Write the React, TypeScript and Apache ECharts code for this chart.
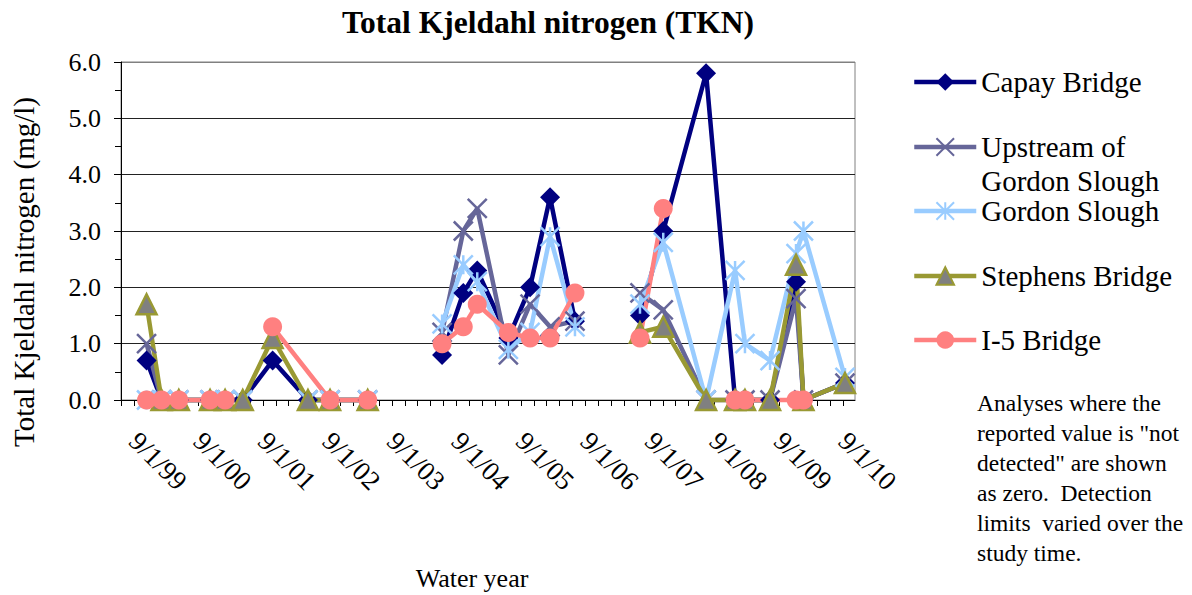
import React, { useEffect, useRef } from "react";
import * as echarts from "echarts";

const FONT = '"Liberation Serif", "Times New Roman", serif';

// Sampling dates, one array per sampling campaign
const earlyDates = ["2000-01-24", "2000-04-18", "2000-07-25", "2001-01-18", "2001-04-13", "2001-07-22", "2002-01-07", "2002-07-26", "2002-11-28", "2003-06-29"];
const middleDates = ["2004-08-24", "2004-12-22", "2005-03-11", "2005-09-03", "2006-01-04", "2006-04-27", "2006-09-15"];
const lateDates = ["2007-09-18", "2008-01-28", "2008-09-27", "2009-03-10", "2009-05-05", "2009-09-24", "2010-02-18", "2010-04-01", "2010-11-22"];

// null = not sampled (skipped), "-" = line break
type V = number | null | "-";
const capayEarly: V[] = [0.7, 0, 0, 0, 0, 0, 0.7, 0, 0, 0];
const capayMiddle: V[] = [0.8, 1.9, 2.3, 1.1, 2.0, 3.6, 1.4];
const capayLate: V[] = [1.5, 3.0, 5.8, 0, 0, 0, 2.1, 0, 0.3];

const upstreamEarly: V[] = [1.0, 0, 0, 0, 0, 0, "-", 0, 0, 0];
const upstreamMiddle: V[] = [1.2, 3.0, 3.4, 0.8, 1.7, 1.3, 1.4];
const upstreamLate: V[] = [1.9, 1.6, 0, 0, 0, 0, 1.8, 0, 0.3];

const gordonEarly: V[] = [0, 0, 0, 0, 0, 0, "-", 0, 0, 0];
const gordonMiddle: V[] = [1.35, 2.4, 2.1, 0.9, 1.2, 2.9, 1.3];
const gordonLate: V[] = [1.7, 2.8, 0, 2.3, 1.0, 0.7, 2.6, 3.0, 0.4];

const stephensEarly: V[] = [1.7, 0, 0, 0, 0, 0, 1.1, 0, 0, 0];
const stephensMiddle: V[] = [null, null, null, null, null, null, null];
const stephensLate: V[] = [1.2, 1.3, 0, 0, 0, 0, 2.4, 0, 0.3];

const i5Early: V[] = [0, 0, 0, 0, 0, "-", 1.3, null, 0, 0];
const i5Middle: V[] = [1.0, 1.3, 1.7, 1.2, 1.1, 1.1, 1.9];
const i5Late: V[] = [1.1, 3.4, "-", 0, 0, null, 0, 0, null];

const xTickLabels = ["9/1/99", "9/1/00", "9/1/01", "9/1/02", "9/1/03", "9/1/04", "9/1/05", "9/1/06", "9/1/07", "9/1/08", "9/1/09", "9/1/10"];
const yTickLabels = ["0.0", "1.0", "2.0", "3.0", "4.0", "5.0", "6.0"];
// axis extent in water years after 9/1/99
const xAxisMaxYears = 11.38;

const noteLines = [
  "Analyses where the",
  'reported value is "not',
  'detected" are shown',
  "as zero.  Detection",
  "limits  varied over the",
  "study time.",
];

// years since 9/1/1999 (water-year axis units)
function toYears(date: string): number {
  const [y, m, d] = date.split("-").map(Number);
  const base = m >= 9 ? y : y - 1;
  const start = Date.UTC(base, 8, 1);
  const end = Date.UTC(base + 1, 8, 1);
  return base - 1999 + (Date.UTC(y, m - 1, d) - start) / (end - start);
}

const periods = [earlyDates, middleDates, lateDates];
function build(parts: V[][]) {
  const out: any[] = [];
  parts.forEach((vals, p) => {
    const dates = periods[p];
    vals.forEach((v, i) => {
      if (v === null) return;
      out.push([toYears(dates[i]), v]);
    });
    if (p < parts.length - 1) out.push([toYears(dates[dates.length - 1]) + 0.01, "-"]);
  });
  return out;
}

const X_PATH = "path://M0 0L10 10M10 0L0 10";
const STAR_PATH = "path://M0 0L10 10M10 0L0 10M5 0L5 10";

function isWhole(v: number) {
  return Math.abs(v - Math.round(v)) < 1e-6;
}

export default function App() {
  const ref = useRef<HTMLDivElement>(null);
  useEffect(() => {
    if (!ref.current) return;
    const chart = echarts.init(ref.current, null, { renderer: "svg" });
    const lw = 4.5;
    const legendBase = {
      left: 912,
      orient: "vertical",
      itemWidth: 62,
      itemHeight: 22,
      padding: 0,
      lineStyle: { width: lw },
      textStyle: { fontSize: 29, fontFamily: FONT, color: "#000", lineHeight: 34 },
    };
    const option: any = {
      animation: false,
      backgroundColor: "#fff",
      title: {
        text: "Total Kjeldahl nitrogen (TKN)",
        left: 548,
        top: 4,
        textAlign: "center",
        padding: 0,
        textStyle: { fontSize: 31.5, fontWeight: "bold", fontFamily: FONT, color: "#000", lineHeight: 36 },
      },
      grid: {
        left: 121,
        top: 62,
        width: 734,
        height: 338,
        show: true,
        borderColor: "#808080",
        borderWidth: 1,
        backgroundColor: "#fff",
      },
      legend: [
        { ...legendBase, top: 65, data: ["Capay Bridge"] },
        {
          ...legendBase,
          top: 96,
          data: ["Upstream of Gordon Slough"],
          formatter: () => "\nUpstream of\nGordon Slough",
        },
        { ...legendBase, top: 194, data: ["Gordon Slough"] },
        { ...legendBase, top: 259, data: ["Stephens Bridge"] },
        { ...legendBase, top: 323, data: ["I-5 Bridge"] },
      ],
      xAxis: {
        type: "value",
        min: 0,
        max: xAxisMaxYears,
        interval: 0.2,
        axisLine: { show: true, onZero: false, lineStyle: { color: "#000", width: 1 } },
        axisTick: { show: true, length: 6, lineStyle: { color: "#000" } },
        splitLine: { show: false },
        axisLabel: {
          rotate: -45,
          margin: 24,
          fontSize: 27,
          fontFamily: FONT,
          color: "#000",
          padding: [0, 0, 0, 18],
          showMaxLabel: false,
          formatter: (v: number) => (isWhole(v) ? xTickLabels[Math.round(v)] ?? "" : ""),
        },
      },
      yAxis: {
        type: "value",
        min: 0,
        max: 6,
        interval: 1,
        axisLine: { show: true, lineStyle: { color: "#000", width: 1 } },
        axisTick: { show: true, length: 7, lineStyle: { color: "#000" } },
        minorTick: { show: true, splitNumber: 2, length: 6, lineStyle: { color: "#000" } },
        splitLine: {
          show: true,
          lineStyle: { color: ["#222", "#222", "#222", "#222", "#222", "#222", "#808080"], width: 1 },
        },
        axisLabel: {
          margin: 20,
          fontSize: 26,
          fontFamily: FONT,
          color: "#000",
          formatter: (v: number) => yTickLabels[Math.round(v)] ?? "",
        },
      },
      graphic: [
        {
          type: "text",
          x: 24,
          y: 272,
          rotation: Math.PI / 2,
          style: {
            text: "Total Kjeldahl nitrogen (mg/l)",
            fontSize: 29,
            fontFamily: FONT,
            fill: "#000",
            textAlign: "center",
            textVerticalAlign: "middle",
          },
        },
        {
          type: "text",
          x: 472,
          y: 578,
          style: {
            text: "Water year",
            fontSize: 26,
            fontFamily: FONT,
            fill: "#000",
            textAlign: "center",
            textVerticalAlign: "middle",
          },
        },
        {
          type: "text",
          x: 977,
          y: 388,
          style: {
            text: noteLines.join("\n"),
            fontSize: 23.5,
            lineHeight: 30,
            fontFamily: FONT,
            fill: "#000",
            textAlign: "left",
            textVerticalAlign: "top",
          },
        },
      ],
      series: [
        {
          name: "Capay Bridge",
          type: "line",
          clip: false,
          color: "#000080",
          data: build([capayEarly, capayMiddle, capayLate]),
          symbol: "diamond",
          symbolSize: 20,
          lineStyle: { color: "#000080", width: lw },
          itemStyle: { color: "#000080" },
        },
        {
          name: "Upstream of Gordon Slough",
          type: "line",
          clip: false,
          color: "#666699",
          data: build([upstreamEarly, upstreamMiddle, upstreamLate]),
          symbol: X_PATH,
          symbolSize: 19,
          lineStyle: { color: "#666699", width: lw },
          itemStyle: { color: "#666699", borderColor: "#666699", borderWidth: 2.5 },
        },
        {
          name: "Gordon Slough",
          type: "line",
          clip: false,
          color: "#99CCFF",
          data: build([gordonEarly, gordonMiddle, gordonLate]),
          symbol: STAR_PATH,
          symbolSize: 19,
          lineStyle: { color: "#99CCFF", width: lw },
          itemStyle: { color: "#99CCFF", borderColor: "#99CCFF", borderWidth: 2.5 },
        },
        {
          name: "Stephens Bridge",
          type: "line",
          clip: false,
          color: "#999933",
          data: build([stephensEarly, stephensMiddle, stephensLate]),
          symbol: "triangle",
          symbolSize: 20,
          lineStyle: { color: "#999933", width: lw },
          itemStyle: { color: "#808080", borderColor: "#999933", borderWidth: 2.5 },
        },
        {
          name: "I-5 Bridge",
          type: "line",
          clip: false,
          color: "#FF8080",
          data: build([i5Early, i5Middle, i5Late]),
          symbol: "circle",
          symbolSize: 19,
          lineStyle: { color: "#FF8080", width: lw },
          itemStyle: { color: "#FF8080" },
        },
      ],
    };
    chart.setOption(option);
    return () => chart.dispose();
  }, []);
  return (
    <div
      ref={ref}
      style={{ position: "absolute", left: 0, top: 0, width: 1192, height: 595, background: "#fff" }}
    />
  );
}
